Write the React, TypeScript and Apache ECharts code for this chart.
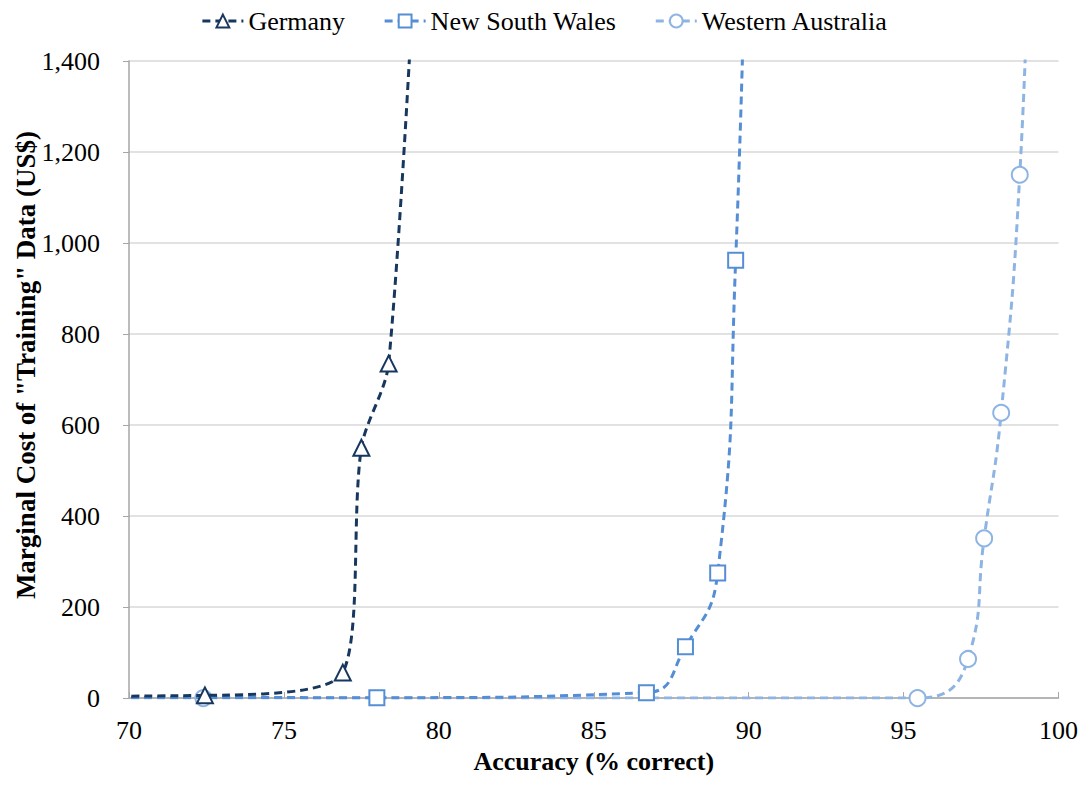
import React, { useEffect, useRef } from "react";
import * as echarts from "echarts";

const seriesNames = ["Germany", "New South Wales", "Western Australia"];
const seriesColors = ["#17375E", "#558ED5", "#8EB4E3"];
const seriesSymbols = ["triangle", "rect", "circle"];
const seriesSmooth = [0.3, 0.5, 0.5];

// [accuracy %, marginal cost US$]
const germany: number[][] = [
  [60, 2],
  [72.45, 6],
  [76.9, 56],
  [77.5, 550],
  [78.38, 735],
  [79.5, 2000],
];
const newSouthWales: number[][] = [
  [60, 3],
  [78, 1],
  [86.7, 12],
  [87.96, 113],
  [89.0, 275],
  [89.58, 962],
  [90.0, 2000],
];
const westernAustralia: number[][] = [
  [60, 0],
  [72.4, 0],
  [95.45, 0],
  [97.08, 86],
  [97.6, 351],
  [98.15, 627],
  [98.75, 1150],
  [99.1, 1800],
];

const xTicks = { min: 70, max: 100, interval: 5 };
const yTicks = { min: 0, max: 1400, interval: 200 };
const yTitle = 'Marginal Cost of "Training" Data (US$)';
const xTitle = "Accuracy (% correct)";

const FONT = "'Times New Roman', 'Liberation Serif', serif";

export default function App() {
  const ref = useRef<HTMLDivElement>(null);
  useEffect(() => {
    if (!ref.current) return;
    const chart = echarts.init(ref.current, undefined, { renderer: "svg" });
    const datasets = [germany, newSouthWales, westernAustralia];
    chart.setOption({
      animation: false,
      backgroundColor: "#ffffff",
      textStyle: { fontFamily: FONT },
      legend: {
        top: 0,
        left: "center",
        padding: 0,
        itemWidth: 41,
        itemHeight: 16,
        itemGap: 38,
        lineStyle: { width: 3 },
        textStyle: { fontFamily: FONT, fontSize: 26, color: "#000" },
        data: seriesNames,
      },
      graphic: [
        {
          type: "text",
          x: 18,
          y: 357,
          rotation: Math.PI / 2,
          style: {
            text: yTitle,
            fontFamily: FONT,
            fontSize: 27,
            fontWeight: "bold",
            fill: "#000",
            textAlign: "center",
            textVerticalAlign: "middle",
          },
        },
      ],
      grid: { left: 121, right: 15, top: 53, bottom: 78, containLabel: false },
      xAxis: {
        type: "value",
        min: xTicks.min,
        max: xTicks.max,
        interval: xTicks.interval,
        name: xTitle,
        nameLocation: "middle",
        nameGap: 43,
        nameTextStyle: { fontFamily: FONT, fontSize: 26, fontWeight: "bold", color: "#000" },
        axisLine: { lineStyle: { color: "#A6A6A6", width: 1.5 } },
        axisTick: { show: true, inside: true, length: 6, lineStyle: { color: "#A6A6A6" } },
        axisLabel: { fontFamily: FONT, fontSize: 26, color: "#000", margin: 19 },
        splitLine: { show: false },
      },
      yAxis: {
        type: "value",
        min: yTicks.min,
        max: yTicks.max,
        interval: yTicks.interval,
        axisLine: { show: true, lineStyle: { color: "#A6A6A6", width: 1.5 } },
        axisTick: { show: true, inside: false, length: 6, lineStyle: { color: "#A6A6A6" } },
        axisLabel: {
          fontFamily: FONT,
          fontSize: 26,
          color: "#000",
          margin: 29,
          formatter: (v: number) => v.toLocaleString("en-US"),
        },
        splitLine: { show: true, lineStyle: { color: "#D9D9D9", width: 1.5 } },
      },
      series: datasets.map((d, i) => ({
        name: seriesNames[i],
        type: "line",
        data: d,
        smooth: seriesSmooth[i],
        clip: true,
        symbol: seriesSymbols[i],
        symbolSize: i === 1 ? 15 : 16,
        showAllSymbol: true,
        lineStyle: { color: seriesColors[i], width: 3, type: [8, 5] },
        itemStyle: { color: "#ffffff", borderColor: seriesColors[i], borderWidth: 2 },
        emphasis: { disabled: true },
        z: 10 - i,
      })),
    });
    return () => chart.dispose();
  }, []);
  return <div ref={ref} style={{ width: 1073, height: 771 }} />;
}
